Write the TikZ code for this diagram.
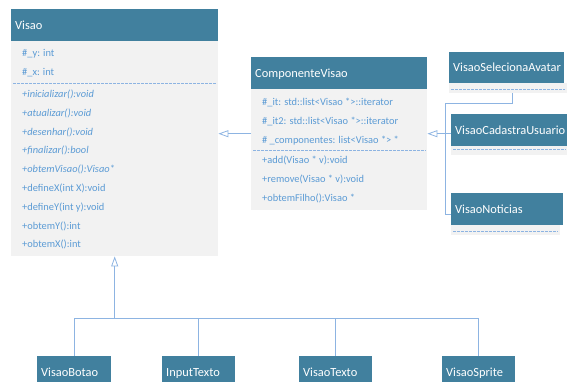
\documentclass[tikz,border=0pt]{standalone}
\usepackage{fontspec}
\setmainfont{Carlito}
\usetikzlibrary{arrows.meta}
\definecolor{hdrblue}{RGB}{65,128,158}
\definecolor{bodygray}{RGB}{242,242,242}
\definecolor{membertext}{RGB}{91,155,213}
\definecolor{linkblue}{RGB}{141,180,226}
\newcommand{\hdrfont}{\fontsize{12.4}{14}\selectfont\hyphenpenalty=10000 }
\newcommand{\memfont}{\fontsize{10.4}{12}\selectfont}
\tikzset{
    header/.style={rectangle, anchor=north west, fill=hdrblue, text=white, font=\hdrfont, minimum height=32pt, inner xsep=4pt, inner ysep=0pt, text height=10pt, text depth=2pt, align=left},
    body/.style={rectangle, anchor=north west, fill=bodygray, inner sep=0pt},
    member/.style={anchor=west, inner sep=0pt, text=membertext, font=\memfont, text height=9pt, text depth=2pt},
    sep/.style={linkblue, line width=0.5pt, dash pattern=on 3pt off 1pt},
    link/.style={linkblue, line width=0.8pt},
    gen/.style={link, -{Triangle[open, length=10pt, width=7pt]}}
}

\begin{document}
\begin{tikzpicture}[x=1pt, y=-1pt]
    \useasboundingbox (0,0) rectangle (567,381);

    % Visao
    \node (visaoBody) [body, minimum width=207pt, minimum height=215pt] at (11,41) {};
    \node (visaoHead) [header, text width=199pt] at (11,9) {Visao};
    \draw [sep] ([shift={(2,42)}]visaoBody.north west) -- ([shift={(-2,42)}]visaoBody.north east);
    \foreach \txt [count=\i] in {\#\_y: int, \#\_x: int}
        \node (visaoAttr\i) [member] at (22, 34+19*\i) {\txt};
    \foreach \txt [count=\i] in {{\itshape +inicializar():void}, {\itshape +atualizar():void}, {\itshape +desenhar():void}, {\itshape +finalizar():bool}, {\itshape +obtemVisao():Visao*}, +defineX(int X):void, +defineY(int y):void, +obtemY():int, +obtemX():int}
        \node (visaoOp\i) [member] at (22, 75.2+18.8*\i) {\txt};

    % ComponenteVisao
    \node (compBody) [body, minimum width=176pt, minimum height=121pt] at (251,89) {};
    \node (compHead) [header, text width=168pt] at (251,57) {ComponenteVisao};
    \draw [sep] ([shift={(2,61)}]compBody.north west) -- ([shift={(-2,61)}]compBody.north east);
    \foreach \txt [count=\i] in {\#\_it: std::list<Visao *>::iterator, \#\_it2: std::list<Visao *>::iterator, \# \_componentes: list<Visao *> *}
        \node (compAttr\i) [member] at (262, 83+19*\i) {\txt};
    \foreach \txt [count=\i] in {+add(Visao * v):void, +remove(Visao * v):void, +obtemFilho():Visao *}
        \node (compOp\i) [member] at (262, 141+19*\i) {\txt};

    % Right side: composite views
    \node (selBody) [body, minimum width=118pt, minimum height=10pt] at (449,83) {};
    \node (selHead) [header, text width=107pt, minimum height=31pt] at (449,52) {VisaoSelecionaAvatar};
    \draw [sep] ([shift={(2,6)}]selBody.north west) -- ([shift={(-2,6)}]selBody.north east);

    \node (cadBody) [body, minimum width=116pt, minimum height=9pt] at (451,146) {};
    \node (cadHead) [header, text width=108pt] at (451,114) {VisaoCadastraUsuario};
    \draw [sep] ([shift={(2,3)}]cadBody.north west) -- ([shift={(-2,3)}]cadBody.north east);

    \node (notBody) [body, minimum width=109pt, minimum height=10pt] at (451,225) {};
    \node (notHead) [header, text width=104pt] at (451,193) {VisaoNoticias};
    \draw [sep] ([shift={(2,6)}]notBody.north west) -- ([shift={(-2,6)}]notBody.north east);

    % Bottom: leaf views
    \node (botao) [header, text width=66pt] at (37,356) {VisaoBotao};
    \node (input) [header, text width=65pt] at (162,356) {InputTexto};
    \node (texto) [header, text width=65pt] at (299,356) {VisaoTexto};
    \node (sprite) [header, text width=65pt] at (442,356) {VisaoSprite};

    % Connectors
    \draw [gen] ([yshift=16pt]compBody.west) -- ([yshift=16pt]compBody.west -| visaoBody.east);

    \coordinate (rightBus) at ([xshift=18pt, yshift=16pt]compBody.east);
    \draw [gen] (rightBus) -- ([yshift=16pt]compBody.east);
    \draw [link] ([xshift=63pt]selBody.south west) -- ++(0,10) -| (rightBus);
    \draw [link] (rightBus) -- (rightBus -| cadHead.west);
    \draw [link] (rightBus) |- ([yshift=-5pt]notHead.west);

    \coordinate (bottomBus) at ([yshift=-62pt]visaoBody.south);
    \draw [gen] (bottomBus) -- (visaoBody.south);
    \foreach \nm in {botao, input, texto, sprite}
        \draw [link] (\nm.north) |- (bottomBus);
\end{tikzpicture}
\end{document}
